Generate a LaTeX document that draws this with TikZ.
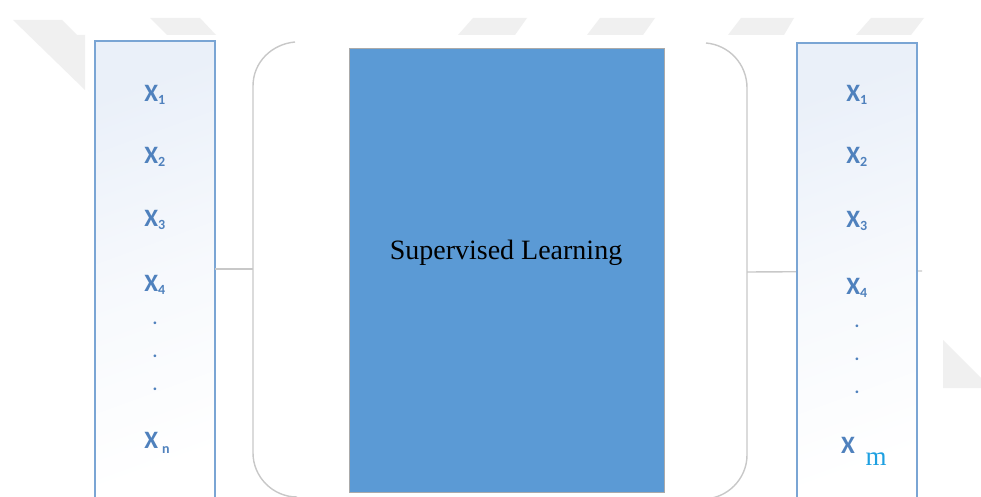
\documentclass[tikz,border=0pt]{standalone}
\usepackage{fontspec}
\setmainfont{Liberation Serif}
\newfontfamily\lblfont{Carlito}
\definecolor{wm}{RGB}{240,240,240}
\definecolor{boxedge}{RGB}{122,165,212}
\definecolor{boxtop}{RGB}{234,240,249}
\definecolor{lbl}{RGB}{79,129,189}
\definecolor{slblue}{RGB}{91,154,213}
\definecolor{brk}{RGB}{200,200,200}
\definecolor{mcyan}{RGB}{30,160,225}
\tikzset{
  wmark/.style={fill=wm, draw=none},
  colbox/.style={draw=boxedge, line width=1.8pt, top color=boxtop, bottom color=white, middle color=white!60!boxtop, shading angle=20},
  bracketline/.style={draw=brk, line width=1.4pt},
  link/.style={draw=brk, line width=1.4pt},
  xlabel/.style={text=lbl, font=\lblfont\bfseries\fontsize{25}{25}\selectfont, inner sep=0pt},
  dotlabel/.style={text=lbl, font=\lblfont\bfseries\fontsize{18}{18}\selectfont, inner sep=0pt},
  learnbox/.style={draw={rgb,255:red,170;green,170;blue,170}, line width=0.8pt, fill=slblue, minimum width=315pt, minimum height=444pt, inner sep=0pt},
}
\newcommand{\xs}[1]{X\textsubscript{\fontsize{14}{14}\selectfont #1}}
\begin{document}
\begin{tikzpicture}[x=1pt,y=-1pt]
\useasboundingbox (0,0) rectangle (981,497);
\clip (0,0) rectangle (981,497);
\fill[white] (0,0) rectangle (981,497);
% watermark fragments
\path[wmark] (13,20) -- (62,20) -- (77,35) -- (85,35) -- (85,90) -- cycle;
\path[wmark] (150,18) -- (200,18) -- (216,35) -- (167,35) -- cycle;
\path[wmark] (473,18) -- (527,18) -- (515,35) -- (458,35) -- cycle;
\path[wmark] (600,18) -- (655,18) -- (643,35) -- (587,35) -- cycle;
\path[wmark] (741,18) -- (794,18) -- (784,35) -- (728,35) -- cycle;
\path[wmark] (871,18) -- (924,18) -- (911,35) -- (856,35) -- cycle;
\path[wmark] (943,340) -- (981,378) -- (981,388) -- (943,388) -- cycle;
% bracket sides
\draw[bracketline] (295,42) .. controls (272,44) and (253,62) .. (253,86) -- (253,453) .. controls (253,477) and (273,497) .. (297,497);
\draw[bracketline] (706,43) .. controls (729,45) and (747,64) .. (747,88) -- (747,455) .. controls (747,479) and (727,499) .. (703,499);
\coordinate (bl) at (253,269);
\coordinate (br) at (747,272);
% connectors
\coordinate (stub) at (922,271);
\draw[link] (br) -- (stub);
% columns
\path[colbox] (95,41) rectangle (215,510);
\path[colbox] (797,43) rectangle (917,510);
\coordinate (lbR) at (215,269);
\draw[link] (lbR) -- (bl);
% central box
\node[learnbox] (learn) at (506.5,270) {};
\node[font=\fontsize{28}{28}\selectfont, inner sep=0pt] (learntxt) at (506,253) {Supervised Learning};
% left labels
\node[xlabel] (l1) at (155,95) {\xs{1}};
\node[xlabel] (l2) at (155,157) {\xs{2}};
\node[xlabel] (l3) at (155,220) {\xs{3}};
\node[xlabel] (l4) at (155,285) {\xs{4}};
\node[dotlabel] (ld1) at (155,323) {.};
\node[dotlabel] (ld2) at (155,356) {.};
\node[dotlabel] (ld3) at (155,389) {.};
\node[xlabel] (ln) at (157,443) {X\,\raisebox{-5pt}{\fontsize{14}{14}\selectfont n}};
% right labels
\node[xlabel] (r1) at (857,95) {\xs{1}};
\node[xlabel] (r2) at (857,157) {\xs{2}};
\node[xlabel] (r3) at (857,221) {\xs{3}};
\node[xlabel] (r4) at (857,288) {\xs{4}};
\node[dotlabel] (rd1) at (857,326) {.};
\node[dotlabel] (rd2) at (857,359) {.};
\node[dotlabel] (rd3) at (857,392) {.};
\node[xlabel] (rmX) at (848,445) {X};
\node[text=mcyan, font=\fontsize{27}{27}\selectfont, inner sep=0pt] (rm) at (876,459) {m};
\end{tikzpicture}
\end{document}
